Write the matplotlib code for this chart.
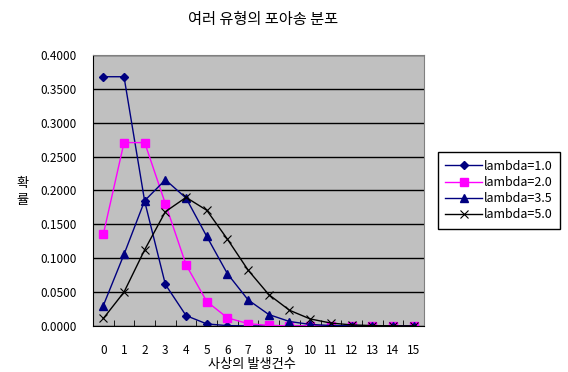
# -*- coding: utf-8 -*-
import numpy as np
from matplotlib import pyplot as plt

plt.rcParams['font.family'] = ['Noto Sans CJK KR', 'DejaVu Sans']

# 사상의 발생건수
counts = list(range(16))
lam1 = [0.3679, 0.3679, 0.1839, 0.0613, 0.0153, 0.0031, 0.0005, 0.0001,
        0.0, 0.0, 0.0, 0.0, 0.0, 0.0, 0.0, 0.0]
lam2 = [0.1353, 0.2707, 0.2707, 0.1804, 0.0902, 0.0361, 0.0120, 0.0034,
        0.0009, 0.0002, 0.0, 0.0, 0.0, 0.0, 0.0, 0.0]
lam35 = [0.0302, 0.1057, 0.1850, 0.2158, 0.1888, 0.1322, 0.0771, 0.0385,
         0.0169, 0.0066, 0.0023, 0.0007, 0.0002, 0.0001, 0.0, 0.0]
lam5 = [0.0111, 0.0500, 0.1125, 0.1687, 0.1898, 0.1708, 0.1281, 0.0824,
        0.0463, 0.0232, 0.0104, 0.0043, 0.0016, 0.0006, 0.0002, 0.0001]
labels = ['lambda=1.0', 'lambda=2.0', 'lambda=3.5', 'lambda=5.0']
yticks = [0.0, 0.05, 0.1, 0.15, 0.2, 0.25, 0.3, 0.35, 0.4]

fig = plt.figure(figsize=(5.68, 3.72), dpi=100)
ax = fig.add_axes([0.1637, 0.1237, 0.5827, 0.7285])
ax.set_facecolor('#C0C0C0')

ax.plot(counts, lam1, color='#000080', marker='D', ms=4.5, lw=1, label=labels[0])
ax.plot(counts, lam2, color='#FF00FF', marker='s', ms=6, lw=1, label=labels[1])
ax.plot(counts, lam35, color='#000080', marker='^', ms=6, lw=1, label=labels[2])
ax.plot(counts, lam5, color='black', marker='x', ms=6, mew=0.8, lw=1, label=labels[3])

ax.set_xlim(-0.5, 15.5)
ax.set_ylim(0, 0.4)
ax.set_yticks(yticks)
ax.set_yticklabels(['%.4f' % v for v in yticks], fontsize=8.5)
ax.set_xticks(counts)
ax.set_xticklabels([str(c) for c in counts], fontsize=8.5)
ax.set_xticks(np.arange(-0.5, 16, 1), minor=True)
ax.tick_params(axis='x', which='major', length=0, pad=13)
ax.tick_params(axis='x', which='minor', length=4, direction='in', color='black')
ax.tick_params(axis='y', length=0, pad=11.5)

# 그리드
ax.yaxis.grid(True, color='black', lw=1)
ax.set_axisbelow(True)

for s in ['top', 'right']:
    ax.spines[s].set_color('#808080')
for s in ['left', 'bottom']:
    ax.spines[s].set_color('black')

fig.text(0.463, 0.948, '여러 유형의 포아송 분포', ha='center', va='center', fontsize=11)
fig.text(0.443, 0.02, '사상의 발생건수', ha='center', va='center', fontsize=9.5)
fig.text(0.039, 0.508, '확', ha='center', va='center', fontsize=9.5)
fig.text(0.039, 0.462, '률', ha='center', va='center', fontsize=9.5)

leg = fig.legend(loc='center left', bbox_to_anchor=(0.771, 0.488), fontsize=9,
                 frameon=True, fancybox=False, edgecolor='black', framealpha=1,
                 handlelength=2.9, handletextpad=0.2, borderpad=0.6, labelspacing=0.25,
                 borderaxespad=0)
leg.get_frame().set_linewidth(1)

plt.savefig('out.png', dpi=100)
plt.close('all')
